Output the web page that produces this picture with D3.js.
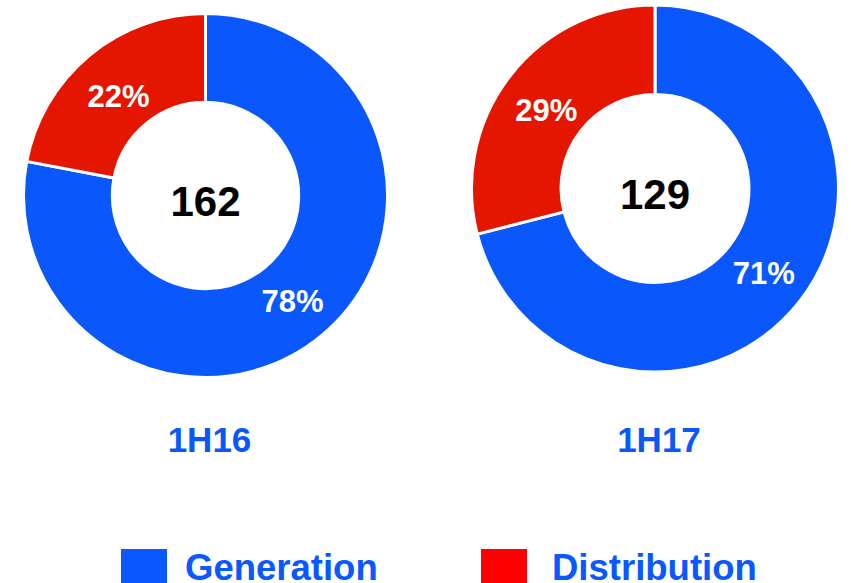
<!DOCTYPE html>
<html>
<head>
<meta charset="utf-8">
<script src="https://cdn.jsdelivr.net/npm/d3@7"></script>
<style>
  body { margin: 0; background: #fff; }
  text { font-family: "Liberation Sans", Arial, sans-serif; font-weight: bold; }
</style>
</head>
<body>
<div id="chart"></div>
<script>
// Chart data
const periods = ["1H16", "1H17"];
const totals = [162, 129];
const generation = [78, 71];
const distribution = [22, 29];
const segments = ["Generation", "Distribution"];

const width = 851;
const height = 583;

const centerX = d3.scalePoint().domain(periods).range([205.5, 655]);
const centerY = [195.5, 188.5];
const outerR = [182, 183.5];
const holeRatio = 0.512;

const color = d3.scaleOrdinal().domain(segments).range(["#0a58fc", "#e41600"]);
const legendColor = d3.scaleOrdinal().domain(segments).range(["#0a58ff", "#ff0000"]);

const svg = d3
    .select("#chart")
    .append("svg")
    .attr("width", width)
    .attr("height", height);

const pie = d3.pie().sort(null).value((d) => d.value);

periods.forEach(function (p, i) {
    const slices = pie([
        { key: "Generation", value: generation[i] },
        { key: "Distribution", value: distribution[i] },
    ]);
    const r = outerR[i];
    const arc = d3.arc().innerRadius(r * holeRatio).outerRadius(r);
    const labelArc = d3.arc().innerRadius(r * 0.75).outerRadius(r * 0.75);

    const g = svg
        .append("g")
        .attr("transform", `translate(${centerX(p)},${centerY[i]})`);

    g.selectAll("path")
        .data(slices)
        .join("path")
        .attr("d", arc)
        .attr("fill", (d) => color(d.data.key))
        .attr("stroke", "#fff")
        .attr("stroke-width", 3);

    // percentage labels
    g.selectAll("text.pct")
        .data(slices)
        .join("text")
        .attr("class", "pct")
        .attr("transform", (d) => {
            const c = labelArc.centroid(d);
            const dy = d.data.key === "Distribution" ? 6 : 0;
            return `translate(${c[0]},${c[1] + dy})`;
        })
        .attr("text-anchor", "middle")
        .attr("dy", "0.36em")
        .attr("fill", "#fff")
        .style("font-size", "31px")
        .text((d) => d.data.value + "%");

    // total in the hole
    g.append("text")
        .attr("text-anchor", "middle")
        .attr("y", 20)
        .attr("fill", "#000")
        .style("font-size", "42px")
        .text(totals[i]);

    // period label
    svg.append("text")
        .attr("x", centerX(p) + 4)
        .attr("y", 452)
        .attr("text-anchor", "middle")
        .attr("fill", "#0a58fc")
        .style("font-size", "35px")
        .text(p);
});

// Legend
const legendX = d3.scalePoint().domain(segments).range([121, 481]);

const legend = svg
    .selectAll("g.legend")
    .data(segments)
    .join("g")
    .attr("class", "legend")
    .attr("transform", (d) => `translate(${legendX(d)},549)`);

legend.append("rect")
    .attr("width", 46)
    .attr("height", 40)
    .attr("fill", (d) => legendColor(d));

legend.append("text")
    .attr("x", (d) => (d === "Generation" ? 64 : 71))
    .attr("y", 31)
    .attr("fill", "#0a58ff")
    .style("font-size", "36.5px")
    .text((d) => d);
</script>
</body>
</html>
